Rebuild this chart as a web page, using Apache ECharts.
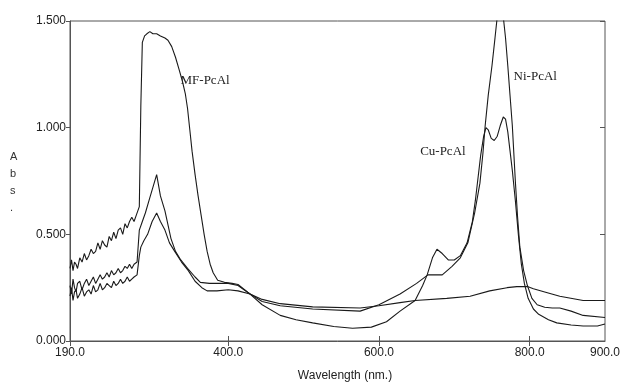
<!DOCTYPE html>
<html>
<head>
<meta charset="utf-8">
<script src="https://cdn.jsdelivr.net/npm/echarts@6/dist/echarts.min.js"></script>
<style>
  html, body { margin: 0; padding: 0; background: #fff; }
  #main { width: 622px; height: 383px; }
</style>
</head>
<body>
<div id="main"></div>
<script>
// x tick labels (nm) and tick marks
var xLabels = [190, 400, 600, 800, 900];
var xTicks = [190, 400, 600, 800];

// MF-PcAl
var mfWavelength = [190,192,194,196,198,200,203,206,209,212,215,218,221,224,227,230,233,236,239,242,245,248,251,254,257,260,263,266,269,272,275,278,280,282,284,286,289,292,296,300,305,310,316,320,325,330,335,339,343,346,349,352,356,360,364,368,372,376,380,386,395,405,413,420,429,445,469,512,575,600,628,648,690,721,747,770,783,797,805,820,840,871,900];
var mfAbs = [0.34,0.38,0.33,0.37,0.36,0.34,0.39,0.37,0.41,0.38,0.40,0.43,0.41,0.42,0.46,0.43,0.47,0.45,0.44,0.49,0.47,0.51,0.48,0.52,0.53,0.50,0.55,0.53,0.56,0.58,0.56,0.59,0.61,0.63,1.10,1.40,1.43,1.44,1.45,1.44,1.44,1.43,1.42,1.41,1.38,1.33,1.27,1.22,1.16,1.09,0.99,0.89,0.78,0.68,0.59,0.50,0.42,0.36,0.32,0.285,0.275,0.27,0.265,0.245,0.22,0.195,0.175,0.16,0.155,0.165,0.18,0.19,0.20,0.21,0.235,0.25,0.255,0.255,0.245,0.23,0.21,0.19,0.19];

// Cu-PcAl
var cuWavelength = [190,192,194,196,198,200,203,206,209,212,215,218,221,224,227,230,233,236,239,242,245,248,251,254,257,260,263,266,269,272,275,279,282,284,288,293,299,305,310,316,322,329,338,347,356,365,372,385,400,413,429,445,469,490,512,540,565,590,610,628,648,658,664,671,677,684,692,700,708,717,724,728,731,735,739,742,745,749,753,757,761,765,768,771,774,777,781,785,789,793,798,805,812,825,836,855,871,890,900];
var cuAbs = [0.21,0.25,0.19,0.23,0.24,0.20,0.22,0.25,0.21,0.23,0.24,0.22,0.26,0.23,0.24,0.27,0.24,0.25,0.27,0.26,0.25,0.28,0.26,0.27,0.29,0.27,0.28,0.30,0.28,0.29,0.30,0.31,0.40,0.44,0.47,0.50,0.56,0.60,0.56,0.52,0.46,0.42,0.37,0.33,0.28,0.25,0.235,0.235,0.24,0.235,0.22,0.17,0.12,0.10,0.085,0.068,0.06,0.065,0.09,0.14,0.19,0.26,0.31,0.39,0.43,0.41,0.38,0.38,0.40,0.46,0.56,0.66,0.75,0.87,0.96,1.00,0.99,0.95,0.94,0.96,1.01,1.05,1.04,0.98,0.89,0.80,0.66,0.50,0.36,0.27,0.20,0.15,0.125,0.10,0.085,0.075,0.07,0.07,0.08];

// Ni-PcAl (Q band peak runs past the top of the frame)
var niWavelength = [190,192,194,196,198,200,203,206,209,212,215,218,221,224,227,230,233,236,239,242,245,248,251,254,257,260,263,266,269,272,275,279,282,286,290,295,300,305,310,316,324,330,337,346,356,363,375,390,400,413,429,445,469,512,575,600,628,650,665,684,697,708,718,727,734,738,741,745,750,754,757,761,765,768,771,774,777,781,784,787,792,797,803,810,820,830,840,855,871,900];
var niAbs = [0.26,0.22,0.29,0.25,0.23,0.27,0.28,0.24,0.27,0.29,0.26,0.28,0.30,0.27,0.29,0.31,0.29,0.30,0.32,0.30,0.33,0.31,0.32,0.34,0.32,0.33,0.35,0.34,0.36,0.34,0.36,0.37,0.52,0.56,0.60,0.66,0.72,0.78,0.68,0.61,0.48,0.42,0.38,0.34,0.30,0.275,0.27,0.27,0.27,0.26,0.22,0.185,0.165,0.15,0.14,0.17,0.22,0.27,0.31,0.31,0.35,0.39,0.46,0.60,0.74,0.88,1.01,1.15,1.29,1.42,1.52,1.58,1.52,1.42,1.29,1.15,1.01,0.75,0.58,0.44,0.33,0.26,0.20,0.17,0.158,0.155,0.155,0.14,0.12,0.11];

// where the curve names sit: [wavelength, abs]
var mfLabelAt = [336, 1.22];
var cuLabelAt = [654, 0.89];
var niLabelAt = [778, 1.24];

function pairs(xs, ys) {
  return xs.map(function (x, i) { return [x, ys[i]]; });
}

function curve(name, xs, ys, labelAt) {
  return {
    name: name,
    type: 'line',
    data: pairs(xs, ys),
    showSymbol: false,
    symbol: 'none',
    smooth: false,
    clip: true,
    lineStyle: { color: '#1a1a1a', width: 1.1 },
    markPoint: {
      symbol: 'circle',
      symbolSize: 1,
      silent: true,
      itemStyle: { color: 'rgba(0,0,0,0)' },
      data: [{ coord: labelAt, value: name }],
      label: {
        show: true,
        position: 'right',
        distance: 0,
        formatter: name,
        fontFamily: 'Liberation Serif',
        fontSize: 13,
        color: '#222'
      }
    }
  };
}

var myChart = echarts.init(document.getElementById('main'));

var option = {
  backgroundColor: '#fff',
  animation: false,
  grid: {
    left: 70, right: 17, top: 21, bottom: 42,
    outerBoundsMode: 'none',
    show: true, borderColor: '#555', borderWidth: 1
  },
  xAxis: [{
    type: 'value',
    min: 190, max: 900,
    name: 'Wavelength (nm.)',
    nameLocation: 'middle',
    nameGap: 29,
    nameTextStyle: { fontFamily: 'Liberation Sans', fontSize: 12, color: '#222', padding: [0, 0, 0, 15] },
    axisLine: { show: true, lineStyle: { color: '#555', width: 1 } },
    axisTick: { show: true, inside: true, length: 5, customValues: xTicks, lineStyle: { color: '#555' } },
    axisLabel: {
      customValues: xLabels,
      margin: 6,
      fontFamily: 'Liberation Sans', fontSize: 12, color: '#222',
      formatter: function (v) { return v.toFixed(1); }
    },
    splitLine: { show: false }
  }, {
    type: 'value',
    position: 'top',
    min: 190, max: 900,
    axisLine: { show: false },
    axisTick: { show: true, inside: true, length: 5, customValues: xTicks, lineStyle: { color: '#555' } },
    axisLabel: { show: false },
    splitLine: { show: false }
  }],
  yAxis: [{
    type: 'value',
    min: 0, max: 1.5, interval: 0.5,
    axisLine: { show: true, lineStyle: { color: '#555', width: 1 } },
    axisTick: { show: true, inside: false, length: 4, lineStyle: { color: '#555' } },
    axisLabel: {
      margin: 4,
      fontFamily: 'Liberation Sans', fontSize: 12, color: '#222',
      formatter: function (v) { return v.toFixed(3); }
    },
    splitLine: { show: false }
  }, {
    type: 'value',
    position: 'right',
    min: 0, max: 1.5, interval: 0.5,
    axisLine: { show: false },
    axisTick: { show: true, inside: true, length: 5, lineStyle: { color: '#555' } },
    axisLabel: { show: false },
    splitLine: { show: false }
  }],
  graphic: [{
    type: 'text',
    left: 10, top: 148,
    style: {
      text: 'A\nb\ns\n.',
      fontFamily: 'Liberation Sans',
      fontSize: 11,
      lineHeight: 17,
      fill: '#333'
    }
  }],
  series: [
    curve('MF-PcAl', mfWavelength, mfAbs, mfLabelAt),
    curve('Cu-PcAl', cuWavelength, cuAbs, cuLabelAt),
    curve('Ni-PcAl', niWavelength, niAbs, niLabelAt)
  ]
};

myChart.setOption(option);
</script>
</body>
</html>
